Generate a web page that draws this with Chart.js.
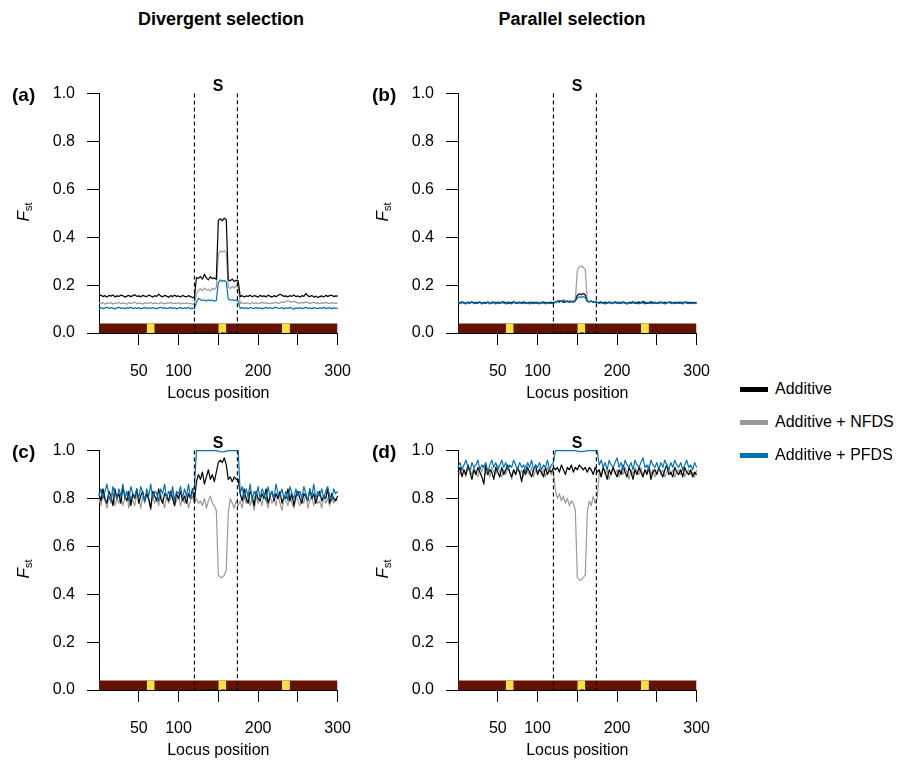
<!DOCTYPE html>
<html>
<head>
<meta charset="utf-8">
<script src="https://cdn.jsdelivr.net/npm/chart.js@4.4.1/dist/chart.umd.min.js"></script>
<style>
body { margin: 0; background: #fff; }
#page { position: relative; width: 909px; height: 761px; overflow: hidden; background: #fff;
        font-family: "Liberation Sans", Arial, Helvetica, sans-serif; color: #000; }
#page canvas { position: absolute; }
.t { position: absolute; white-space: nowrap; line-height: 1; }
.head { font-weight: bold; font-size: 18px; transform: translateX(-50%); }
.tag { font-weight: bold; font-size: 19px; transform: translateY(-50%); }
.sel { font-weight: bold; font-size: 16px; transform: translate(-50%, -50%); }
.ylab { font-size: 17px; transform: translate(-50%, -50%) rotate(-90deg); }
.ylab sub { font-size: 11px; vertical-align: -3px; }
.key { position: absolute; left: 740px; font-size: 16px; display: flex; align-items: center; transform: translateY(-50%); }
.key span { display: inline-block; width: 28px; height: 5px; margin-right: 7px; }
</style>
</head>
<body>
<div id="page">
  <div class="t head" style="left:221px;top:10px">Divergent selection</div>
  <div class="t head" style="left:572px;top:10px">Parallel selection</div>

  <canvas id="pa" width="339" height="331" style="left:29px;top:72px"></canvas>
  <canvas id="pb" width="339" height="331" style="left:388px;top:72px"></canvas>
  <canvas id="pc" width="339" height="331" style="left:29px;top:429px"></canvas>
  <canvas id="pd" width="339" height="331" style="left:388px;top:429px"></canvas>

  <div class="t tag" style="left:12px;top:94px">(a)</div>
  <div class="t tag" style="left:372px;top:94px">(b)</div>
  <div class="t tag" style="left:12px;top:451px">(c)</div>
  <div class="t tag" style="left:372px;top:451px">(d)</div>

  <div class="t sel" style="left:218px;top:86px">S</div>
  <div class="t sel" style="left:577px;top:86px">S</div>
  <div class="t sel" style="left:218px;top:443px">S</div>
  <div class="t sel" style="left:577px;top:443px">S</div>

  <div class="t ylab" style="left:24px;top:212px"><i>F</i><sub>st</sub></div>
  <div class="t ylab" style="left:383px;top:212px"><i>F</i><sub>st</sub></div>
  <div class="t ylab" style="left:24px;top:569px"><i>F</i><sub>st</sub></div>
  <div class="t ylab" style="left:383px;top:569px"><i>F</i><sub>st</sub></div>

  <div class="key" style="top:389px"><span style="background:#000000"></span>Additive</div>
  <div class="key" style="top:422px"><span style="background:#999999"></span>Additive + NFDS</div>
  <div class="key" style="top:455px"><span style="background:#0072B2"></span>Additive + PFDS</div>
</div>

<script>
// locus positions sampled along the chromosome
var loci = [
  0,2.5,5,7.5,10,12.5,15,17.5,20,22.5,
  25,27.5,30,32.5,35,37.5,40,42.5,45,47.5,
  50,52.5,55,57.5,60,62.5,65,67.5,70,72.5,
  75,77.5,80,82.5,85,87.5,90,92.5,95,97.5,
  100,102.5,105,107.5,110,112.5,115,117.5,120,
  122.5,125,127.5,130,132.5,135,137.5,140,142.5,145,147.5,
  150,152.5,155,157.5,160,
  162.5,165,167.5,170,172.5,175,
  177.5,180,182.5,185,187.5,190,192.5,195,197.5,200,
  202.5,205,207.5,210,212.5,215,217.5,220,222.5,225,
  227.5,230,232.5,235,237.5,240,242.5,245,247.5,250,
  252.5,255,257.5,260,262.5,265,267.5,270,272.5,275,
  277.5,280,282.5,285,287.5,290,292.5,295,297.5,300
];

var seriesNames = ["Additive", "Additive + NFDS", "Additive + PFDS"];
var chromosome = [0, 300];
var selectedBlocks = [[60, 70], [150, 160], [230, 240]];
var regionBounds = [120, 174];
var xTicks = [50, 100, 150, 200, 250, 300];
var xTickLabels = ["50", "100", "", "200", "", "300"];
var yTicks = [0, 0.2, 0.4, 0.6, 0.8, 1.0];

// (a) divergent selection, top row
var fstA_add = [
  .155,.158,.152,.156,.150,.157,.154,.159,.151,.155,
  .153,.158,.156,.150,.154,.157,.152,.156,.160,.153,
  .155,.151,.157,.154,.152,.158,.155,.150,.156,.153,
  .162,.155,.151,.157,.154,.149,.156,.152,.158,.153,
  .155,.150,.157,.153,.151,.156,.152,.148,.150,
  .232,.228,.236,.225,.245,.230,.222,.235,.227,.230,.224,
  .470,.478,.468,.480,.472,
  .222,.218,.225,.215,.220,.218,
  .152,.156,.150,.155,.153,.158,.151,.156,.154,.150,
  .157,.153,.155,.151,.158,.154,.150,.156,.152,.157,
  .162,.158,.153,.155,.151,.156,.153,.159,.152,.155,
  .150,.156,.153,.165,.155,.152,.157,.150,.154,.148,
  .152,.155,.150,.157,.153,.156,.158,.152,.155,.154
];
var fstA_nfds = [
  .125,.122,.128,.120,.126,.123,.127,.121,.125,.124,
  .128,.122,.126,.124,.120,.127,.123,.125,.129,.122,
  .126,.124,.121,.127,.123,.125,.128,.122,.126,.124,
  .123,.127,.125,.121,.126,.124,.128,.122,.125,.123,
  .127,.121,.125,.123,.126,.122,.124,.120,.123,
  .165,.178,.185,.176,.188,.180,.183,.175,.186,.181,.190,
  .330,.342,.338,.344,.335,
  .192,.186,.195,.188,.198,.190,
  .124,.127,.122,.126,.125,.121,.128,.123,.126,.122,
  .125,.128,.123,.127,.124,.122,.126,.125,.129,.123,
  .126,.130,.127,.132,.135,.131,.128,.133,.129,.126,
  .124,.128,.125,.130,.127,.123,.126,.129,.124,.127,
  .122,.126,.124,.128,.125,.123,.127,.124,.126,.125
];
var fstA_pfds = [
  .103,.106,.101,.105,.108,.102,.106,.104,.100,.105,
  .107,.103,.105,.101,.106,.104,.108,.102,.105,.103,
  .106,.101,.104,.107,.103,.105,.102,.106,.104,.101,
  .105,.108,.103,.106,.102,.104,.107,.103,.105,.101,
  .104,.106,.102,.105,.103,.107,.101,.104,.102,
  .128,.145,.140,.136,.138,.134,.139,.135,.137,.133,.136,
  .210,.222,.215,.220,.212,
  .142,.137,.140,.135,.138,.134,
  .102,.106,.103,.105,.101,.107,.104,.102,.106,.103,
  .105,.101,.104,.107,.103,.106,.102,.105,.108,.103,
  .104,.106,.101,.105,.103,.107,.102,.100,.105,.103,
  .106,.102,.104,.107,.103,.105,.101,.106,.104,.102,
  .105,.103,.107,.102,.104,.106,.101,.105,.103,.104
];

// (b) parallel selection, top row
var fstB_add = [
  .127,.124,.129,.126,.123,.128,.125,.130,.124,.127,
  .126,.129,.123,.127,.125,.128,.122,.126,.129,.125,
  .128,.124,.127,.130,.125,.123,.127,.126,.129,.124,
  .126,.128,.125,.129,.123,.127,.126,.124,.128,.125,
  .127,.123,.126,.129,.124,.127,.125,.128,.126,
  .129,.133,.130,.134,.128,.131,.133,.129,.132,.130,.134,
  .158,.164,.160,.165,.159,
  .132,.130,.134,.129,.131,.128,
  .126,.129,.124,.127,.125,.128,.123,.126,.129,.125,
  .127,.124,.128,.126,.122,.127,.125,.129,.124,.126,
  .128,.125,.130,.127,.124,.126,.129,.125,.127,.123,
  .126,.128,.124,.127,.125,.129,.126,.123,.127,.125,
  .128,.124,.126,.129,.125,.127,.123,.126,.128,.124
];
var fstB_nfds = [
  .129,.126,.131,.128,.125,.130,.127,.132,.126,.129,
  .128,.131,.125,.129,.127,.133,.126,.130,.128,.124,
  .130,.127,.132,.128,.126,.131,.129,.127,.133,.128,
  .127,.130,.126,.132,.128,.125,.131,.129,.127,.130,
  .128,.126,.131,.127,.129,.125,.130,.128,.127,
  .130,.132,.128,.134,.131,.129,.133,.130,.132,.128,.135,
  .262,.276,.280,.274,.265,
  .134,.130,.132,.128,.131,.129,
  .128,.131,.126,.130,.127,.132,.129,.126,.131,.128,
  .130,.127,.133,.128,.125,.130,.128,.132,.127,.129,
  .131,.128,.134,.130,.127,.129,.132,.128,.130,.126,
  .129,.132,.127,.130,.128,.126,.131,.129,.127,.130,
  .128,.131,.126,.129,.132,.127,.130,.128,.126,.129
];
var fstB_pfds = [
  .126,.122,.128,.124,.121,.127,.123,.129,.122,.125,
  .124,.128,.121,.126,.123,.129,.122,.125,.127,.121,
  .126,.123,.128,.125,.121,.127,.124,.122,.128,.125,
  .123,.127,.122,.126,.124,.128,.121,.125,.123,.127,
  .124,.122,.127,.125,.121,.126,.123,.125,.124,
  .128,.132,.136,.131,.138,.133,.130,.134,.131,.133,.135,
  .145,.152,.148,.153,.147,
  .134,.131,.133,.129,.132,.128,
  .123,.127,.124,.121,.126,.128,.122,.125,.127,.123,
  .126,.122,.128,.124,.121,.127,.123,.126,.129,.124,
  .122,.127,.125,.121,.128,.124,.126,.122,.127,.125,
  .123,.128,.124,.121,.126,.129,.123,.125,.122,.127,
  .124,.126,.121,.128,.125,.123,.127,.122,.126,.124
];

// (c) divergent selection, bottom row
var fstC_add = [
  .82,.79,.84,.80,.78,.83,.81,.77,.84,.80,
  .82,.78,.85,.81,.79,.83,.77,.82,.80,.84,
  .78,.81,.83,.79,.82,.80,.76,.83,.81,.79,
  .84,.80,.78,.82,.81,.79,.83,.80,.77,.82,
  .80,.83,.79,.81,.78,.82,.80,.84,.79,
  .87,.90,.88,.91,.86,.89,.92,.88,.90,.87,.91,
  .95,.96,.95,.97,.94,
  .88,.89,.87,.89,.88,.88,
  .82,.79,.84,.80,.78,.83,.81,.77,.83,.80,
  .79,.82,.80,.84,.78,.81,.83,.79,.82,.80,
  .83,.78,.81,.80,.84,.79,.82,.77,.81,.83,
  .80,.78,.82,.81,.79,.84,.80,.82,.78,.81,
  .83,.79,.81,.80,.84,.78,.82,.80,.79,.81
];
var fstC_nfds = [
  .80,.77,.82,.79,.76,.81,.78,.83,.77,.80,
  .78,.82,.77,.80,.83,.76,.81,.79,.77,.82,
  .80,.76,.81,.78,.82,.79,.75,.81,.78,.80,
  .77,.82,.79,.76,.81,.78,.80,.83,.77,.79,
  .81,.77,.80,.78,.82,.76,.79,.81,.78,
  .80,.78,.79,.77,.80,.76,.79,.81,.78,.77,.75,
  .48,.47,.47,.48,.50,
  .74,.80,.78,.76,.79,.77,
  .79,.76,.81,.78,.82,.77,.80,.75,.81,.78,
  .80,.77,.82,.79,.76,.81,.78,.80,.77,.82,
  .78,.75,.80,.79,.77,.82,.78,.76,.81,.79,
  .77,.80,.78,.82,.76,.79,.81,.77,.80,.78,
  .79,.76,.81,.78,.80,.77,.82,.78,.80,.79
];
var fstC_pfds = [
  .81,.84,.80,.83,.86,.81,.79,.85,.82,.80,
  .84,.81,.86,.80,.83,.79,.85,.82,.81,.84,
  .80,.85,.82,.79,.84,.81,.86,.80,.83,.82,
  .79,.84,.82,.86,.80,.83,.81,.85,.79,.83,
  .82,.85,.80,.84,.81,.86,.80,.83,.85,
  1.0,1.0,1.0,1.0,1.0,1.0,1.0,1.0,1.0,1.0,1.0,
  .998,.996,.995,.996,.998,
  1.0,1.0,1.0,1.0,1.0,1.0,
  .82,.85,.80,.84,.81,.86,.79,.83,.81,.85,
  .80,.84,.82,.79,.85,.81,.83,.80,.86,.82,
  .81,.84,.80,.83,.79,.85,.82,.80,.84,.81,
  .83,.80,.85,.82,.79,.84,.81,.86,.80,.83,
  .81,.84,.80,.83,.85,.81,.79,.84,.82,.83
];

// (d) parallel selection, bottom row
var fstD_add = [
  .91,.93,.89,.92,.90,.94,.91,.88,.92,.90,
  .93,.91,.89,.86,.94,.90,.92,.91,.88,.93,
  .91,.89,.93,.90,.92,.94,.91,.89,.92,.90,
  .93,.91,.87,.92,.90,.93,.91,.89,.92,.94,
  .90,.92,.91,.89,.93,.90,.92,.91,.93,
  .92,.93,.91,.94,.92,.90,.93,.92,.94,.91,.93,
  .92,.94,.93,.92,.93,
  .91,.93,.92,.90,.93,.91,
  .92,.89,.93,.91,.88,.92,.90,.93,.91,.89,
  .92,.90,.94,.91,.89,.93,.91,.88,.92,.90,
  .93,.91,.89,.92,.90,.93,.88,.91,.92,.90,
  .93,.91,.89,.92,.94,.90,.91,.89,.93,.91,
  .90,.92,.89,.93,.91,.90,.92,.89,.91,.90
];
var fstD_nfds = [
  .92,.90,.93,.91,.89,.94,.92,.90,.93,.91,
  .89,.93,.91,.94,.90,.92,.89,.93,.91,.90,
  .94,.91,.89,.92,.90,.93,.91,.88,.92,.90,
  .93,.90,.92,.89,.94,.91,.90,.93,.89,.92,
  .91,.93,.90,.92,.89,.93,.91,.90,.92,
  .83,.80,.82,.79,.81,.78,.80,.77,.79,.78,.75,
  .47,.46,.46,.47,.48,
  .74,.79,.77,.81,.78,.80,
  .91,.89,.93,.90,.92,.88,.91,.93,.90,.92,
  .89,.92,.90,.93,.91,.88,.92,.90,.93,.91,
  .90,.93,.89,.92,.91,.94,.90,.92,.89,.91,
  .93,.90,.92,.89,.91,.93,.90,.92,.89,.91,
  .92,.90,.93,.89,.91,.92,.90,.91,.89,.92
];
var fstD_pfds = [
  .93,.95,.92,.94,.96,.93,.91,.95,.93,.94,
  .96,.92,.94,.93,.95,.91,.94,.96,.93,.95,
  .92,.94,.96,.93,.95,.92,.94,.93,.96,.94,
  .92,.95,.93,.94,.91,.95,.93,.96,.92,.94,
  .93,.95,.92,.94,.93,.96,.92,.94,.95,
  1.0,1.0,1.0,1.0,1.0,1.0,1.0,1.0,1.0,1.0,1.0,
  .998,.997,.996,.997,.998,
  1.0,1.0,1.0,1.0,1.0,1.0,
  .94,.96,.93,.95,.92,.96,.94,.93,.95,.97,
  .93,.95,.92,.96,.94,.93,.95,.92,.96,.94,
  .93,.95,.97,.93,.94,.92,.96,.94,.93,.95,
  .92,.95,.93,.96,.94,.92,.95,.93,.96,.94,
  .93,.95,.92,.94,.96,.93,.94,.92,.95,.93
];

var lineColors = ["#000000", "#999999", "#0072B2"];
var lineOrder = [2, 3, 1];   // blue on top, then black, grey underneath
var barTop = 0.04;
var brown = "#641300";
var yellow = "#F0E442";

Chart.defaults.font.family = '"Liberation Sans", Arial, sans-serif';
Chart.defaults.font.size = 16;
Chart.defaults.color = "#000";

function pts(xs, ys) {
  return xs.map(function (x, i) { return { x: x, y: ys[i] }; });
}

function makePanel(id, series) {
  var datasets = [];
  series.forEach(function (vals, k) {
    datasets.push({
      label: seriesNames[k],
      data: pts(loci, vals),
      borderColor: lineColors[k],
      borderWidth: 1.2,
      borderJoinStyle: "round",
      pointRadius: 0,
      fill: false,
      order: lineOrder[k],
      clip: 4
    });
  });
  // dashed bracket around the selected region
  datasets.push({
    data: [{ x: regionBounds[0], y: 1 }, { x: regionBounds[0], y: 0 },
           { x: regionBounds[1], y: 0 }, { x: regionBounds[1], y: 1 }],
    borderColor: "#000",
    borderWidth: 1.2,
    borderDash: [4, 3],
    pointRadius: 0,
    fill: false,
    order: 0,
    clip: 4
  });
  // chromosome bar with the loci under selection
  datasets.push({
    data: chromosome.map(function (x) { return { x: x, y: barTop }; }),
    borderColor: "rgba(0,0,0,0)",
    backgroundColor: brown,
    pointRadius: 0,
    fill: "origin",
    order: 5
  });
  selectedBlocks.forEach(function (b) {
    datasets.push({
      data: b.map(function (x) { return { x: x, y: barTop }; }),
      borderColor: "rgba(0,0,0,0)",
      backgroundColor: yellow,
      pointRadius: 0,
      fill: "origin",
      order: 4
    });
  });

  var axisGrid = { drawOnChartArea: false, drawTicks: true, tickLength: 12, color: "#000", lineWidth: 1 };
  return new Chart(document.getElementById(id), {
    type: "line",
    data: { datasets: datasets },
    options: {
      responsive: false,
      animation: false,
      events: [],
      layout: { padding: { top: 20, right: 20, left: 0, bottom: 0 } },
      plugins: { legend: { display: false }, tooltip: { enabled: false } },
      scales: {
        x: {
          type: "linear", min: 0, max: 300,
          afterBuildTicks: function (s) { s.ticks = xTicks.map(function (v) { return { value: v }; }); },
          afterFit: function (s) { s.height = 70; },
          ticks: {
            autoSkip: false, maxRotation: 0, padding: 17,
            callback: function (v, i) { return xTickLabels[i]; }
          },
          grid: axisGrid,
          border: { display: true, color: "#000", width: 1 },
          title: { display: true, text: "Locus position", padding: { top: 0, bottom: 0 } }
        },
        y: {
          type: "linear", min: 0, max: 1,
          afterBuildTicks: function (s) { s.ticks = yTicks.map(function (v) { return { value: v }; }); },
          afterFit: function (s) { s.width = 70; },
          ticks: {
            padding: 12,
            callback: function (v) { return v.toFixed(1); }
          },
          grid: axisGrid,
          border: { display: true, color: "#000", width: 1 }
        }
      }
    }
  });
}

makePanel("pa", [fstA_add, fstA_nfds, fstA_pfds]);
makePanel("pb", [fstB_add, fstB_nfds, fstB_pfds]);
makePanel("pc", [fstC_add, fstC_nfds, fstC_pfds]);
makePanel("pd", [fstD_add, fstD_nfds, fstD_pfds]);
</script>
</body>
</html>
